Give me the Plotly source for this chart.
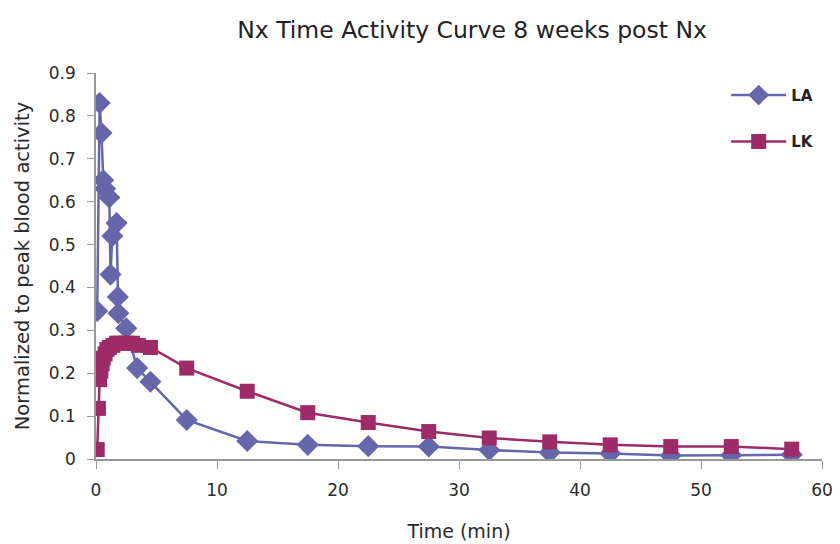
import plotly.graph_objects as go

# LA series (time in min, normalized value)
la_time = [0.1, 0.3, 0.45, 0.6, 0.75, 1.1, 1.2, 1.35, 1.7, 1.8, 1.85, 2.5, 3.4, 4.5,
           7.5, 12.5, 17.5, 22.5, 27.5, 32.5, 37.5, 42.5, 47.5, 52.5, 57.5]
la_vals = [0.345, 0.83, 0.76, 0.65, 0.63, 0.61, 0.43, 0.52, 0.55, 0.378, 0.34, 0.305, 0.212, 0.18,
           0.091, 0.042, 0.033, 0.030, 0.029, 0.021, 0.015, 0.013, 0.008, 0.009, 0.010]

# LK series
lk_time = [0.1, 0.2, 0.3, 0.4, 0.5, 0.6, 0.75, 0.9, 1.1, 1.4, 1.7, 2.0, 2.5, 3.0, 3.5, 4.5,
           7.5, 12.5, 17.5, 22.5, 27.5, 32.5, 37.5, 42.5, 47.5, 52.5, 57.5]
lk_vals = [0.022, 0.118, 0.185, 0.205, 0.222, 0.235, 0.245, 0.255, 0.26, 0.265, 0.27, 0.27, 0.27,
           0.27, 0.265, 0.26, 0.212, 0.158, 0.108, 0.085, 0.064, 0.049, 0.040, 0.033, 0.029, 0.029, 0.023]

x_ticks = [0, 10, 20, 30, 40, 50, 60]
y_ticks = [0, 0.1, 0.2, 0.3, 0.4, 0.5, 0.6, 0.7, 0.8, 0.9]
y_ticktext = ["0", "0.1", "0.2", "0.3", "0.4", "0.5", "0.6", "0.7", "0.8", "0.9"]

LA_COLOR = "#6666aa"
LK_COLOR = "#9c2b68"

fig = go.Figure()
fig.add_trace(go.Scatter(
    x=la_time, y=la_vals, name="LA", mode="lines+markers", legendgroup="a",
    line=dict(color=LA_COLOR, width=2.5),
    marker=dict(symbol="diamond", size=17, color=LA_COLOR),
))
fig.add_trace(go.Scatter(
    x=lk_time, y=lk_vals, name="LK", mode="lines+markers", legendgroup="b",
    line=dict(color=LK_COLOR, width=2.5),
    marker=dict(symbol="square", size=15, color=LK_COLOR),
))

font_family = "DejaVu Sans, Verdana, sans-serif"
fig.update_layout(
    width=840, height=544,
    paper_bgcolor="white", plot_bgcolor="white",
    margin=dict(l=96, r=18, t=73, b=85),
    title=dict(text="Nx Time Activity Curve 8 weeks post Nx", x=0.562, xanchor="center",
               y=0.945, yanchor="middle",
               font=dict(family=font_family, size=23.5, color="#222222")),
    font=dict(family=font_family, size=15, color="#333333"),
    showlegend=True,
    legend=dict(x=0.868, y=0.985, xanchor="left", yanchor="top", tracegroupgap=24,
                itemwidth=55, bgcolor="rgba(0,0,0,0)",
                font=dict(family=font_family, size=15, color="#222222", weight="bold")),
    xaxis=dict(range=[0, 60], tickvals=x_ticks, showgrid=False, zeroline=False,
               showline=True, linecolor="#999999", linewidth=1.5, automargin=False,
               ticks="outside", ticklen=8, tickcolor="#999999", ticklabelstandoff=7,
               tickfont=dict(size=17, color="#2a2a2a"),
               title=dict(text="Time (min)", standoff=26,
                          font=dict(size=19, color="#2a2a2a"))),
    yaxis=dict(range=[0, 0.9], tickvals=y_ticks, ticktext=y_ticktext, showgrid=False,
               zeroline=False, showline=True, linecolor="#999999", linewidth=1.5,
               automargin=False,
               ticks="outside", ticklen=7, tickcolor="#999999", ticklabelstandoff=8,
               tickfont=dict(size=17, color="#2a2a2a"),
               title=dict(text="Normalized to peak blood activity", standoff=14,
                          font=dict(size=19.5, color="#2a2a2a"))),
)

fig.write_html("out.html")
